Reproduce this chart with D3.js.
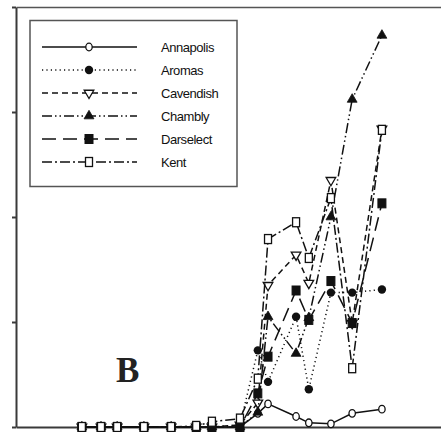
<!DOCTYPE html>
<html>
<head>
<meta charset="utf-8">
<script src="https://cdn.jsdelivr.net/npm/d3@7"></script>
<style>
  body { margin: 0; background: #fff; }
  svg { display: block; }
</style>
</head>
<body>
<div id="chart"></div>
<script>
// sampling days (x) shared by every cultivar
const days = [15.5, 20, 23.8, 30.1, 36.5, 42.4, 46.1, 52.7, 56.9, 59.3, 65.9, 68.9, 74.1, 79.1, 86.1];

const annapolis = [0, 0, 0, 0, 0, 0, 0, 0, 1.3, 2.2, 1.0, 0.4, 0.3, 1.3, 1.7];
const aromas    = [0, 0, 0, 0, 0, 0, 0, 0.2, 7.3, 4.3, 10.5, 3.6, 12.8, 12.8, 13.1];
const cavendish = [0, 0, 0, 0, 0, 0, 0, 0.2, 2.3, 13.5, 16.4, 13.7, 23.5, 9.9, 28.4];
const chambly   = [0, 0, 0, 0, 0, 0, 0, 0, 1.4, 10.5, 7.0, 10.4, 20.0, 31.2, 37.3];
const darselect = [0, 0, 0, 0, 0, 0, 0, 0, 3.2, 6.7, 13.0, 10.2, 13.9, 9.9, 21.3];
const kent      = [0, 0, 0, 0, 0, 0.1, 0.5, 0.8, 4.6, 17.9, 19.5, 16.1, 21.8, 5.6, 28.3];

const yTicks = [0, 10, 20, 30, 40];

const series = [
  { name: "Annapolis", values: annapolis, dash: null,            shape: "circle",  fill: "#fff" },
  { name: "Aromas",    values: aromas,    dash: "1.2,3.2",       shape: "dot",     fill: "#111" },
  { name: "Cavendish", values: cavendish, dash: "6,4",           shape: "tridown", fill: "#fff" },
  { name: "Chambly",   values: chambly,   dash: "10,3,1.5,3,1.5,3", shape: "triup", fill: "#111" },
  { name: "Darselect", values: darselect, dash: "14,7",          shape: "square",  fill: "#111" },
  { name: "Kent",      values: kent,      dash: "10,3,2,3",      shape: "rect",    fill: "#fff" }
];

const width = 441, height = 432;
const mLeft = 16, mRight = 441, mTop = 7, mBottom = 427;

const svg = d3.select("#chart").append("svg")
  .attr("width", width)
  .attr("height", height);

const x = d3.scaleLinear().domain([0, 100]).range([mLeft, mRight]);
const y = d3.scaleLinear().domain([0, 40]).range([mBottom, mTop]);

// frame
svg.append("g")
  .attr("transform", `translate(${mLeft},0)`)
  .call(d3.axisLeft(y).tickValues(yTicks).tickSize(4).tickSizeOuter(0).tickFormat(""))
  .call(g => g.selectAll("path, line").attr("stroke", "#3a3a3a").attr("stroke-width", 2));

svg.append("g")
  .attr("transform", `translate(0,${mBottom})`)
  .call(d3.axisBottom(x).tickValues([]).tickSizeOuter(0))
  .call(g => g.select("path").attr("stroke", "#3a3a3a").attr("stroke-width", 2));

svg.append("g")
  .attr("transform", `translate(0,${mTop})`)
  .call(d3.axisTop(x).tickValues([]).tickSizeOuter(0))
  .call(g => g.select("path").attr("stroke", "#555").attr("stroke-width", 1.6));

function marker(sel, shape, fill) {
  if (shape === "rect") {
    sel.append("rect").attr("x", -3.5).attr("y", -4.5).attr("width", 7).attr("height", 9)
      .attr("fill", fill).attr("stroke", "#111").attr("stroke-width", 1.3);
  } else if (shape === "square") {
    sel.append("rect").attr("x", -4).attr("y", -4.5).attr("width", 8).attr("height", 9)
      .attr("fill", fill).attr("stroke", "#111").attr("stroke-width", 1);
  } else if (shape === "circle") {
    sel.append("ellipse").attr("rx", 3.2).attr("ry", 3.8)
      .attr("fill", fill).attr("stroke", "#111").attr("stroke-width", 1.3);
  } else if (shape === "dot") {
    sel.append("circle").attr("r", 4.2).attr("fill", fill);
  } else if (shape === "triup") {
    sel.append("path").attr("d", d3.symbol(d3.symbolTriangle, 42)())
      .attr("fill", fill).attr("stroke", "#111").attr("stroke-width", 0.8);
  } else if (shape === "tridown") {
    sel.append("path").attr("d", d3.symbol(d3.symbolTriangle, 40)())
      .attr("transform", "rotate(180)")
      .attr("fill", fill).attr("stroke", "#111").attr("stroke-width", 1.3);
  }
}

const line = d3.line()
  .x((d, i) => x(days[i]))
  .y(d => y(d));

const plot = svg.append("g");

series.forEach(s => {
  const g = plot.append("g");
  g.append("path")
    .attr("d", line(s.values))
    .attr("fill", "none")
    .attr("stroke", "#111")
    .attr("stroke-width", 1.5)
    .attr("stroke-dasharray", s.dash);
  g.selectAll("g.pt")
    .data(s.values)
    .join("g")
      .attr("class", "pt")
      .attr("transform", (d, i) => `translate(${x(days[i])},${y(d)})`)
      .each(function() { marker(d3.select(this), s.shape, s.fill); });
});

// legend
const legend = svg.append("g");
legend.append("rect")
  .attr("x", 30).attr("y", 20.5).attr("width", 207).attr("height", 166)
  .attr("fill", "#fff").attr("stroke", "#555").attr("stroke-width", 1.5);

series.forEach((s, i) => {
  const ly = 47 + i * 23;
  const row = legend.append("g").attr("transform", `translate(0,${ly})`);
  row.append("line")
    .attr("x1", 42).attr("x2", 137)
    .attr("stroke", "#111").attr("stroke-width", 1.3)
    .attr("stroke-dasharray", s.dash);
  marker(row.append("g").attr("transform", "translate(89,0)"), s.shape, s.fill);
  row.append("text")
    .attr("x", 161).attr("y", 5)
    .attr("font-family", "Liberation Sans, Arial, sans-serif")
    .attr("font-size", 13)
    .attr("letter-spacing", -0.45)
    .attr("fill", "#111")
    .text(s.name);
});

svg.append("text")
  .attr("x", 116).attr("y", 382)
  .attr("font-family", "Liberation Serif, Times New Roman, serif")
  .attr("font-weight", "bold")
  .attr("font-size", 35)
  .attr("fill", "#222")
  .text("B");
</script>
</body>
</html>
